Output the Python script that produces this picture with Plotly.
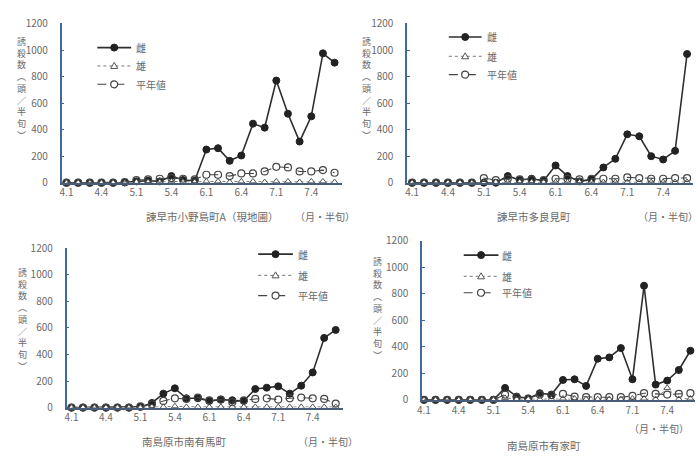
import plotly.graph_objects as go

periods = ["4.1","4.2","4.3","4.4","4.5","4.6",
           "5.1","5.2","5.3","5.4","5.5","5.6",
           "6.1","6.2","6.3","6.4","6.5","6.6",
           "7.1","7.2","7.3","7.4","7.5","7.6"]
tick_labels = ["4.1","4.4","5.1","5.4","6.1","6.4","7.1","7.4"]
series_names = ["雌", "雄", "平年値"]
y_ticks = [0, 200, 400, 600, 800, 1000, 1200]

# 諫早市小野島町A(現地圃)
female1 = [0,0,0,0,0,2,10,15,10,50,20,15,250,260,165,205,445,415,770,520,310,500,975,905]
male1   = [0,0,0,0,0,0,5,5,5,10,5,5,10,10,5,10,10,5,10,10,5,10,10,5]
normal1 = [0,0,0,0,0,5,20,25,30,35,30,25,60,60,50,70,70,85,120,115,85,85,95,75]
# 諫早市多良見町
female2 = [0,0,0,0,0,0,0,0,50,20,30,15,130,50,10,25,115,180,365,350,200,175,240,970]
male2   = [0,0,0,0,0,0,0,5,5,5,5,5,5,5,5,5,5,5,5,5,5,5,5,5]
normal2 = [0,0,0,0,0,0,35,20,30,25,25,20,30,30,25,30,30,30,40,35,30,30,35,35]
# 南島原市南有馬町
female3 = [0,0,0,0,0,0,5,35,105,145,70,70,50,60,55,50,140,150,160,105,165,265,525,585]
male3   = [0,0,0,0,0,0,0,5,5,10,5,5,5,5,5,5,5,5,5,5,5,5,5,5]
normal3 = [0,0,0,0,0,0,10,25,50,70,65,75,55,60,40,55,65,70,60,70,75,70,65,30]
# 南島原市有家町
female4 = [0,0,0,0,0,0,0,90,25,10,50,40,150,155,105,310,320,390,155,860,115,145,225,370]
male4   = [0,0,0,0,0,0,0,15,5,5,5,5,10,10,5,5,5,5,10,10,5,90,5,10]
normal4 = [0,0,0,0,0,0,0,40,20,10,40,35,45,25,20,20,20,20,30,50,45,40,45,50]

panels = [
    dict(name="諫早市小野島町A（現地圃）", data=(female1, male1, normal1)),
    dict(name="諫早市多良見町", data=(female2, male2, normal2)),
    dict(name="南島原市南有馬町", data=(female3, male3, normal3)),
    dict(name="南島原市有家町", data=(female4, male4, normal4)),
]

W, H = 699, 458
def px(x): return x / W
def py(y): return (H - y) / H

# plot boxes in pixels: (left, right, top, bottom) and x ranges
boxes = [(57, 339, 15, 180), (405, 693, 15, 180), (62, 340, 248, 413), (420, 695, 240, 405)]
xranges = [(-0.42, 23.6), (-0.42, 23.5), (-0.43, 23.6), (-0.17, 23.4)]
# legend: (line x0, line x1, text x, row ys)
legends = [(93, 127, 130, (40, 59, 78)),
           (447, 480, 483, (29, 49, 68)),
           (255, 290, 293, (254, 276, 297)),
           (462, 497, 499, (255, 277, 294))]
ytitle_pos = [(17, 82), (364, 82), (18, 322), (375, 310)]
loc_pos = [(208, 215), (533, 215), (181, 448), (543, 452)]
unit_pos = [(322, 215), (668, 215), (325, 448), (659, 435)]

FONT = "Noto Sans CJK JP"
TXT = "#6a6a6a"
LINE = "#2e2e2e"

styles = [
    dict(mode="lines+markers", line=dict(color=LINE, width=1.6),
         marker=dict(symbol="circle", size=7, color="#222", line=dict(color="#222", width=1))),
    dict(mode="lines+markers", line=dict(color="#777", width=1, dash="dot"),
         marker=dict(symbol="triangle-up", size=6, color="#fff", line=dict(color="#555", width=1))),
    dict(mode="lines+markers", line=dict(color="#444", width=1.1, dash="dash"),
         marker=dict(symbol="circle-open", size=7, color="#444", line=dict(width=1.2))),
]
leg_line = [dict(color=LINE, width=1.6), dict(color="#777", width=1, dash="dot"),
            dict(color="#444", width=1.1, dash="dash")]

fig = go.Figure()
annotations = []
shapes = []
layout = {}
for i, p in enumerate(panels):
    k = "" if i == 0 else str(i + 1)
    for j, vals in enumerate(p["data"]):
        fig.add_trace(go.Scatter(x=periods, y=vals, name=series_names[j],
                                 xaxis="x" + k, yaxis="y" + k, showlegend=False,
                                 cliponaxis=False, **styles[j]))
    l, r, t, b = boxes[i]
    layout["xaxis" + k] = dict(domain=[px(l), px(r)], anchor="y" + k, type="category",
                               categoryorder="array", categoryarray=periods,
                               range=list(xranges[i]), tickvals=tick_labels, ticktext=tick_labels,
                               showline=True, linecolor="#4a5d78", linewidth=1.5,
                               showgrid=False, zeroline=False, ticks="",
                               tickfont=dict(size=10, color=TXT, family=FONT))
    layout["yaxis" + k] = dict(domain=[py(b), py(t)], anchor="x" + k, range=[0, 1200],
                               tickvals=y_ticks, showline=True, linecolor="#3f6a9a", linewidth=1.5,
                               showgrid=False, zeroline=False, ticks="inside", ticklen=3,
                               tickcolor="#3f6a9a", ticklabelstandoff=10,
                               tickfont=dict(size=10, color=TXT, family=FONT))
    # manual legend
    x0, x1, tx_, rows = legends[i]
    xm = (x0 + x1) / 2
    for j, yy in enumerate(rows):
        shapes.append(dict(type="line", xref="paper", yref="paper",
                           x0=px(x0), x1=px(x1), y0=py(yy), y1=py(yy), line=leg_line[j]))
        if j == 0:
            shapes.append(dict(type="circle", xref="paper", yref="paper",
                               xsizemode="pixel", ysizemode="pixel",
                               xanchor=px(xm), yanchor=py(yy), x0=-3.5, x1=3.5, y0=-3.5, y1=3.5,
                               fillcolor="#222", line=dict(color="#222", width=1)))
        elif j == 1:
            shapes.append(dict(type="path", xref="paper", yref="paper",
                               xsizemode="pixel", ysizemode="pixel",
                               xanchor=px(xm), yanchor=py(yy),
                               path="M -3.5 -2.5 L 3.5 -2.5 L 0 3.5 Z",
                               fillcolor="#fff", line=dict(color="#555", width=1)))
        else:
            shapes.append(dict(type="circle", xref="paper", yref="paper",
                               xsizemode="pixel", ysizemode="pixel",
                               xanchor=px(xm), yanchor=py(yy), x0=-3.5, x1=3.5, y0=-3.5, y1=3.5,
                               fillcolor="#fff", line=dict(color="#444", width=1.2)))
        annotations.append(dict(x=px(tx_), y=py(yy), xref="paper", yref="paper",
                                xanchor="left", yanchor="middle", showarrow=False,
                                text=series_names[j], font=dict(size=10, color=TXT, family=FONT)))
    tx, ty = ytitle_pos[i]
    annotations.append(dict(x=px(tx), y=py(ty), xref="paper", yref="paper", showarrow=False,
                            xanchor="center", yanchor="middle",
                            text="<br>".join(list("誘殺数︵頭／半旬︶")),
                            font=dict(size=9, color=TXT, family=FONT)))
    cx, cy = loc_pos[i]
    annotations.append(dict(x=px(cx), y=py(cy), xref="paper", yref="paper", showarrow=False,
                            xanchor="center", yanchor="middle",
                            text=p["name"], font=dict(size=10.5, color=TXT, family=FONT)))
    ux, uy = unit_pos[i]
    annotations.append(dict(x=px(ux), y=py(uy), xref="paper", yref="paper", showarrow=False,
                            xanchor="center", yanchor="middle",
                            text="（月・半旬）", font=dict(size=10, color=TXT, family=FONT)))

fig.update_layout(width=W, height=H, margin=dict(l=0, r=0, t=0, b=0),
                  paper_bgcolor="white", plot_bgcolor="white", hovermode=False,
                  showlegend=False, annotations=annotations, shapes=shapes, **layout)
fig.write_html("out.html", config={"responsive": False, "displayModeBar": False},
               post_script="document.body.style.margin='0';document.body.style.overflow='hidden';")
